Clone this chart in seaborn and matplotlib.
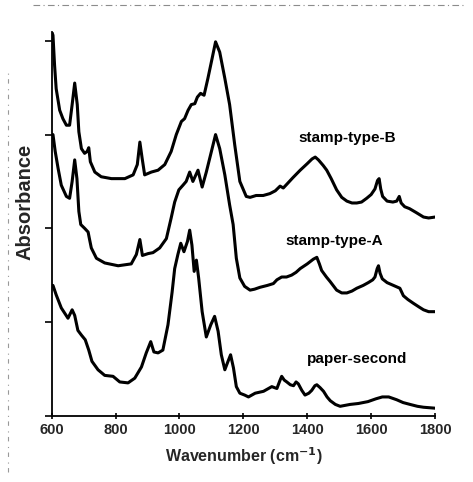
import matplotlib
matplotlib.use("Agg")
import matplotlib.pyplot as plt
from matplotlib.lines import Line2D
import seaborn as sns
import pandas as pd

# FTIR spectra, offset vertically (arbitrary absorbance units)
wn_b = [600, 604, 609, 614, 625, 635, 646, 656, 664, 672, 680, 685, 693, 703, 711,
        716, 721, 735, 755, 787, 829, 855, 868, 876, 883, 891, 912, 933, 954, 974,
        990, 1006, 1016, 1027, 1037, 1048, 1056, 1066, 1077, 1089, 1102, 1113, 1126,
        1142, 1157, 1173, 1189, 1209, 1221, 1240, 1262, 1283, 1300, 1315, 1325, 1336,
        1355, 1378, 1400, 1415, 1425, 1435, 1450, 1461, 1475, 1492, 1508, 1524, 1540,
        1555, 1570, 1586, 1600, 1612, 1620, 1625, 1630, 1636, 1650, 1668, 1680, 1688,
        1694, 1705, 1720, 1740, 1764, 1780, 1800]
abs_b = [4.10, 4.06, 3.74, 3.49, 3.26, 3.17, 3.10, 3.10, 3.32, 3.55, 3.32, 3.03, 2.85,
         2.80, 2.82, 2.86, 2.71, 2.60, 2.55, 2.53, 2.53, 2.57, 2.68, 2.92, 2.75, 2.57,
         2.60, 2.62, 2.68, 2.82, 3.00, 3.14, 3.17, 3.26, 3.32, 3.33, 3.40, 3.44, 3.42,
         3.60, 3.81, 3.99, 3.88, 3.60, 3.32, 2.89, 2.50, 2.34, 2.33, 2.35, 2.35, 2.37,
         2.40, 2.45, 2.43, 2.47, 2.54, 2.62, 2.69, 2.74, 2.76, 2.73, 2.67, 2.62, 2.53,
         2.41, 2.33, 2.29, 2.27, 2.27, 2.28, 2.32, 2.36, 2.42, 2.51, 2.53, 2.42, 2.34,
         2.29, 2.28, 2.29, 2.34, 2.27, 2.23, 2.21, 2.17, 2.12, 2.11, 2.12]

wn_a = [600, 604, 611, 620, 630, 646, 656, 664, 672, 679, 685, 691, 703, 714, 718, 724,
        740, 766, 808, 849, 865, 876, 884, 902, 917, 938, 959, 974, 985, 998, 1011,
        1021, 1032, 1042, 1058, 1071, 1084, 1100, 1113, 1126, 1142, 1157, 1168, 1178,
        1189, 1204, 1221, 1235, 1252, 1275, 1294, 1305, 1320, 1335, 1351, 1365, 1378,
        1400, 1419, 1430, 1438, 1445, 1460, 1472, 1492, 1508, 1524, 1540, 1555, 1575,
        1591, 1605, 1612, 1619, 1623, 1628, 1635, 1650, 1670, 1690, 1701, 1715, 1732,
        1750, 1764, 1780, 1800]
abs_a = [3.00, 3.00, 2.82, 2.64, 2.46, 2.34, 2.32, 2.50, 2.73, 2.53, 2.18, 2.04, 2.00,
         1.96, 1.89, 1.79, 1.68, 1.63, 1.60, 1.62, 1.72, 1.88, 1.71, 1.73, 1.74, 1.79,
         1.89, 2.11, 2.28, 2.41, 2.46, 2.50, 2.60, 2.50, 2.62, 2.44, 2.60, 2.82, 3.00,
         2.85, 2.57, 2.25, 2.04, 1.68, 1.47, 1.38, 1.34, 1.35, 1.37, 1.39, 1.41, 1.45,
         1.48, 1.48, 1.50, 1.53, 1.57, 1.62, 1.67, 1.69, 1.62, 1.55, 1.48, 1.43, 1.34,
         1.31, 1.31, 1.33, 1.36, 1.39, 1.42, 1.45, 1.48, 1.57, 1.60, 1.52, 1.46, 1.42,
         1.39, 1.36, 1.28, 1.24, 1.20, 1.16, 1.13, 1.11, 1.11]

wn_p = [600, 604, 614, 630, 651, 664, 672, 682, 693, 705, 716, 726, 745, 766, 792, 813,
        839, 860, 881, 896, 910, 920, 933, 948, 964, 977, 985, 995, 1004, 1014, 1025,
        1032, 1039, 1046, 1053, 1060, 1071, 1084, 1098, 1110, 1121, 1131, 1142, 1152,
        1160, 1169, 1178, 1189, 1204, 1216, 1237, 1263, 1289, 1305, 1315, 1320, 1328,
        1336, 1347, 1357, 1365, 1372, 1383, 1393, 1405, 1414, 1424, 1430, 1440, 1451,
        1462, 1472, 1488, 1503, 1534, 1560, 1590, 1615, 1635, 1655, 1680, 1700, 1722,
        1745, 1764, 1800]
abs_p = [1.39, 1.39, 1.29, 1.15, 1.04, 1.13, 1.07, 0.91, 0.86, 0.81, 0.70, 0.58, 0.49,
         0.43, 0.42, 0.36, 0.35, 0.40, 0.52, 0.67, 0.79, 0.68, 0.67, 0.70, 0.97, 1.32,
         1.57, 1.72, 1.84, 1.75, 1.86, 1.98, 1.82, 1.54, 1.66, 1.47, 1.11, 0.84, 0.97,
         1.06, 0.90, 0.65, 0.49, 0.58, 0.65, 0.51, 0.31, 0.24, 0.22, 0.20, 0.24, 0.26,
         0.31, 0.29, 0.38, 0.42, 0.38, 0.36, 0.33, 0.32, 0.36, 0.34, 0.27, 0.22, 0.24,
         0.27, 0.32, 0.33, 0.30, 0.26, 0.20, 0.16, 0.12, 0.10, 0.12, 0.13, 0.15, 0.18,
         0.20, 0.20, 0.17, 0.14, 0.12, 0.10, 0.09, 0.08]

names = ["stamp-type-B", "stamp-type-A", "paper-second"]
label_x = [1524, 1484, 1555]
label_y = [2.96, 1.86, 0.60]
x_ticks = [600, 800, 1000, 1200, 1400, 1600, 1800]
y_ticks = [0, 1, 2, 3, 4]

spectra = pd.concat([
    pd.DataFrame({"wavenumber": wn_b, "absorbance": abs_b, "sample": names[0]}),
    pd.DataFrame({"wavenumber": wn_a, "absorbance": abs_a, "sample": names[1]}),
    pd.DataFrame({"wavenumber": wn_p, "absorbance": abs_p, "sample": names[2]}),
], ignore_index=True)

sns.set_theme(style="ticks")
plt.rcParams["font.family"] = ["Liberation Sans", "DejaVu Sans"]

fig = plt.figure(figsize=(4.73, 4.82), dpi=100)
ax = fig.add_axes([0.1093, 0.1376, 0.8104, 0.797])

sns.lineplot(data=spectra, x="wavenumber", y="absorbance", units="sample",
             estimator=None, sort=False, color="black", linewidth=2.2, ax=ax,
             legend=False)
for ln in ax.get_lines():
    ln.set_solid_joinstyle("round")
    ln.set_solid_capstyle("round")

for name, lx, ly in zip(names, label_x, label_y):
    ax.text(lx, ly, name, ha="center", va="center", fontsize=11,
            fontweight="bold", color="black")

ax.set_xlim(600, 1800)
ax.set_ylim(0, 4.1)
ax.set_xticks(x_ticks)
ax.set_xticklabels([str(t) for t in x_ticks], fontsize=10.5, fontweight="bold")
ax.set_yticks(y_ticks)
ax.set_yticklabels([])
ax.tick_params(axis="x", direction="inout", length=5, width=1.2, pad=3, color="black")
ax.tick_params(axis="y", direction="out", length=5, width=1.2, color="black")
ax.set_xlabel("Wavenumber (cm$^{\\mathbf{-1}}$)", fontsize=11.5, fontweight="bold",
              labelpad=6)
ax.set_ylabel("Absorbance", fontsize=14.5, fontweight="bold")
ax.yaxis.set_label_coords(-0.044, 0.556)

sns.despine(ax=ax, top=True, right=True)
for side in ("left", "bottom"):
    ax.spines[side].set_linewidth(1.3)
    ax.spines[side].set_color("black")

# faint dotted scan edges
fig.add_artist(Line2D([0.07, 0.985], [0.99, 0.99], transform=fig.transFigure,
                      color="0.55", linewidth=0.8, linestyle=(0, (6, 3, 1, 3))))
fig.add_artist(Line2D([0.017, 0.017], [0.02, 0.85], transform=fig.transFigure,
                      color="0.6", linewidth=0.8, linestyle=(0, (4, 4, 1, 5))))

fig.savefig("out.png", dpi=100, facecolor="white")
